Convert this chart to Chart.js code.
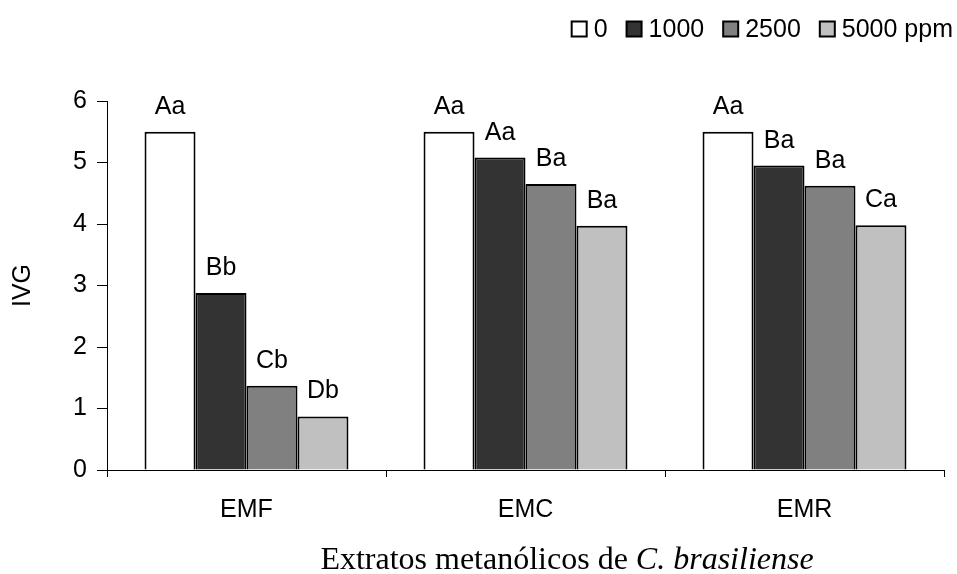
<!DOCTYPE html>
<html>
<head>
<meta charset="utf-8">
<script src="https://cdn.jsdelivr.net/npm/chart.js@4.4.0/dist/chart.umd.min.js"></script>
<style>
  body { margin: 0; background: #fff; }
  #wrap { width: 957px; height: 574px; }
</style>
</head>
<body>
<div id="wrap"><canvas id="ivgChart" width="957" height="574"></canvas></div>
<script>
// IVG by extract and concentration
const extracts = ["EMF", "EMC", "EMR"];
const doses = ["0", "1000", "2500", "5000 ppm"];
const ivg0 = [5.5, 5.5, 5.5];
const ivg1000 = [2.88, 5.08, 4.95];
const ivg2500 = [1.37, 4.65, 4.62];
const ivg5000 = [0.87, 3.97, 3.98];
const letters0 = ["Aa", "Aa", "Aa"];
const letters1000 = ["Bb", "Aa", "Ba"];
const letters2500 = ["Cb", "Ba", "Ba"];
const letters5000 = ["Db", "Ba", "Ca"];
const yTicks = [0, 1, 2, 3, 4, 5, 6];

const fills = ["#ffffff", "#333333", "#808080", "#c0c0c0"];
const series = [ivg0, ivg1000, ivg2500, ivg5000];
const letters = [letters0, letters1000, letters2500, letters5000];

const sans = "'Liberation Sans', Arial, sans-serif";
const serif = "'Liberation Serif', 'Times New Roman', serif";
const fontSize = 25;

// letters above each bar
const barLetters = {
  id: "barLetters",
  afterDatasetsDraw(chart) {
    const ctx = chart.ctx;
    ctx.save();
    ctx.font = fontSize + "px " + sans;
    ctx.fillStyle = "#000";
    ctx.textAlign = "center";
    ctx.textBaseline = "alphabetic";
    chart.data.datasets.forEach((ds, i) => {
      chart.getDatasetMeta(i).data.forEach((bar, j) => {
        ctx.fillText(letters[i][j], bar.x, bar.y - 18);
      });
    });
    ctx.restore();
  }
};

// legend in one row, right aligned at the top
const doseLegend = {
  id: "doseLegend",
  afterDraw(chart) {
    const ctx = chart.ctx;
    const box = 15, gap = 7, space = 19;
    ctx.save();
    ctx.font = fontSize + "px " + sans;
    ctx.textBaseline = "middle";
    let x = 953;
    const y = 29;
    for (let i = chart.data.datasets.length - 1; i >= 0; i--) {
      const ds = chart.data.datasets[i];
      const w = ctx.measureText(ds.label).width;
      x -= w;
      ctx.fillStyle = "#000";
      ctx.fillText(ds.label, x, y + 1);
      x -= gap + box;
      ctx.fillStyle = ds.backgroundColor;
      ctx.fillRect(x, y - box / 2, box, box);
      ctx.lineWidth = 2;
      ctx.strokeStyle = "#000";
      ctx.strokeRect(x, y - box / 2, box, box);
      x -= space;
    }
    ctx.restore();
  }
};

// axis title with the species name in italics
const xTitle = {
  id: "xTitle",
  afterDraw(chart) {
    const ctx = chart.ctx;
    const plain = "Extratos metanólicos de ";
    const ital = "C. brasiliense";
    ctx.save();
    ctx.fillStyle = "#000";
    ctx.textBaseline = "alphabetic";
    ctx.font = "32px " + serif;
    const w1 = ctx.measureText(plain).width;
    ctx.font = "italic 32px " + serif;
    const w2 = ctx.measureText(ital).width;
    const x0 = 567 - (w1 + w2) / 2;
    ctx.font = "32px " + serif;
    ctx.fillText(plain, x0, 569);
    ctx.font = "italic 32px " + serif;
    ctx.fillText(ital, x0 + w1, 569);
    ctx.restore();
  }
};

new Chart(document.getElementById("ivgChart"), {
  type: "bar",
  data: {
    labels: extracts,
    datasets: series.map((vals, i) => ({
      label: doses[i],
      data: vals,
      backgroundColor: fills[i],
      borderColor: "#000",
      borderWidth: 2,
      categoryPercentage: 0.731,
      barPercentage: 1
    }))
  },
  options: {
    responsive: false,
    animation: false,
    layout: { padding: { left: 0, right: 13, top: 101, bottom: 0 } },
    plugins: {
      legend: { display: false },
      tooltip: { enabled: false }
    },
    scales: {
      x: {
        grid: {
          offset: true,
          drawOnChartArea: false,
          tickLength: 7,
          color: "#000"
        },
        border: { color: "#000", width: 1 },
        ticks: {
          color: "#000",
          font: { family: sans, size: fontSize },
          padding: 18
        },
        afterFit(scale) { scale.height = 104; }
      },
      y: {
        min: 0,
        max: 6,
        afterBuildTicks(scale) {
          scale.ticks = yTicks.map(v => ({ value: v }));
        },
        grid: {
          drawOnChartArea: false,
          tickLength: 10,
          color: "#000"
        },
        border: { color: "#000", width: 1 },
        ticks: {
          color: "#000",
          font: { family: sans, size: fontSize },
          padding: 10
        },
        title: {
          display: true,
          text: "IVG",
          color: "#000",
          font: { family: sans, size: fontSize },
          padding: { top: 8, bottom: 0 }
        },
        afterFit(scale) { scale.width = 107; }
      }
    }
  },
  plugins: [barLetters, doseLegend, xTitle]
});
</script>
</body>
</html>
